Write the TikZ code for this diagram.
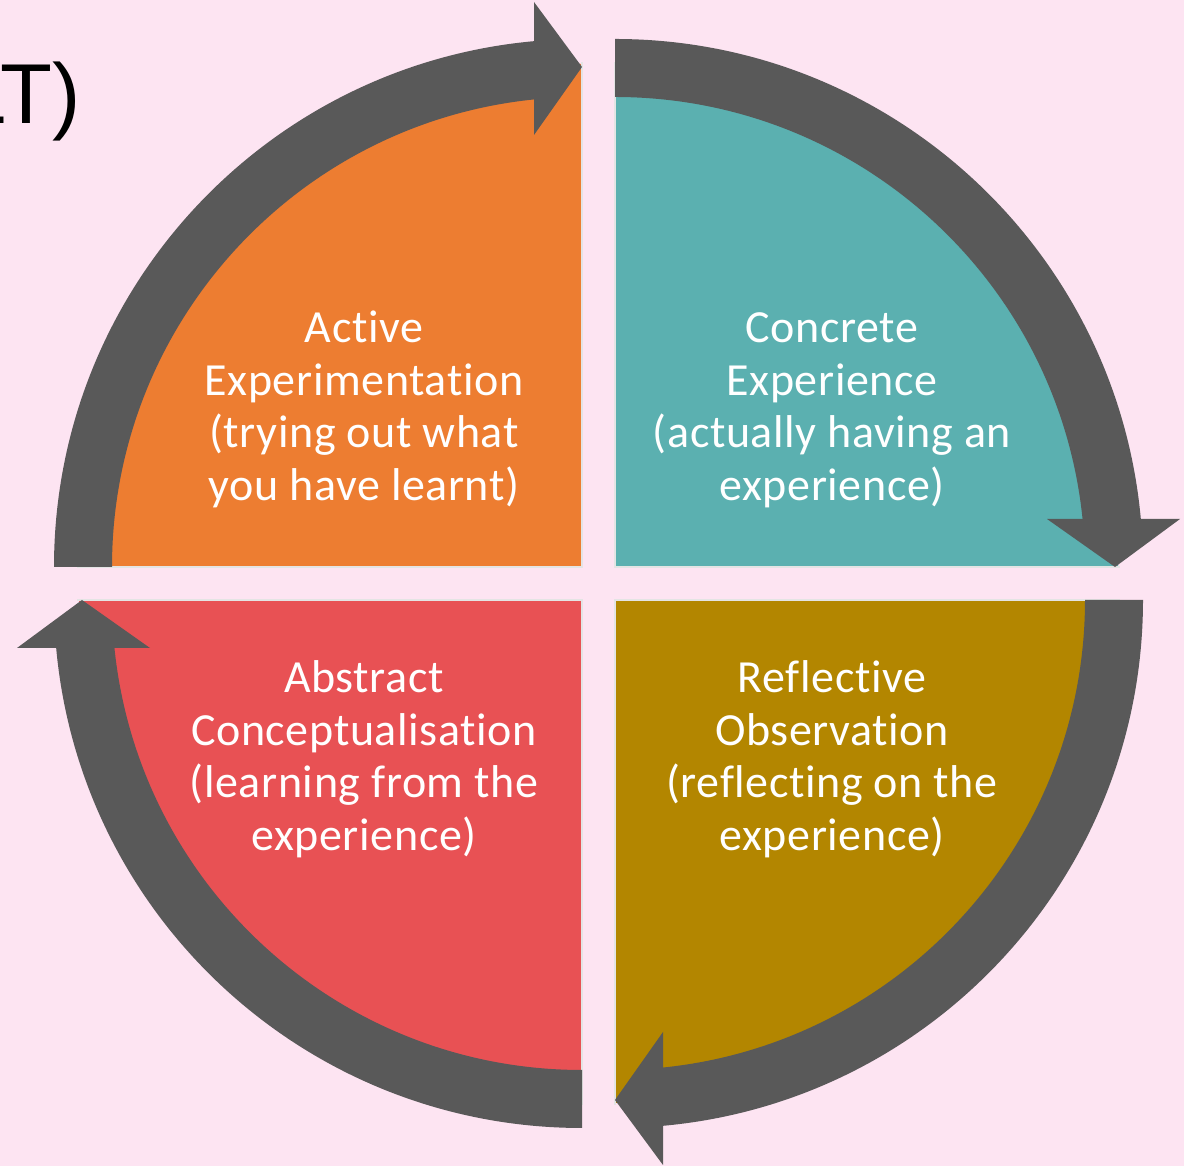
\documentclass[tikz,border=0pt]{standalone}
\usepackage{fontspec}
\setmainfont{Carlito}[Ligatures=NoCommon, LetterSpace=1.3]
\newfontfamily\titlefont{Liberation Sans}
\usetikzlibrary{calc}
\definecolor{bgpink}{HTML}{FDE4F2}
\definecolor{arrowgray}{HTML}{595959}
\definecolor{qorange}{HTML}{ED7D31}
\definecolor{qteal}{HTML}{5BB0B0}
\definecolor{qred}{HTML}{E85154}
\definecolor{qgold}{HTML}{B38600}
\definecolor{edgegray}{HTML}{E4E4E4}
\newcommand\kolbsector[3]{% center, start angle, colour
  \fill[#3] (#1) -- ($(#1)+(#2:503)$) arc[start angle=#2, end angle=#2-90, radius=503] -- cycle;
  \draw[sectoredge] ($(#1)+(#2:505)$) -- (#1) -- ($(#1)+(#2-90:505)$);}
\newcommand\kolbarrow[2]{% center, start angle; head at start-90
  \fill[bandfill] ($(#1)+(#2:528)$) arc[start angle=#2, end angle=#2-87, radius=528]
     -- ($(#1)+(#2-87:470)$) arc[start angle=#2-87, end angle=#2, radius=470] -- cycle;
  \fill[bandfill] ($(#1)+(#2-90:500)$) -- ($(#1)+(#2-90:565)+(#2:48)$)
     -- ($(#1)+(#2-90:432)+(#2:48)$) -- cycle;}
\newcommand\kolblabel[7]{% name, x, first baseline, four lines
  \node[quadtext] (#1a) at (#2,#3) {#4};
  \node[quadtext] (#1b) at (#2,#3-52.5) {#5};
  \node[quadtext] (#1c) at (#2,#3-105) {#6};
  \node[quadtext] (#1d) at (#2,#3-157.5) {#7};}
\begin{document}
\begin{tikzpicture}[x=1pt,y=1pt,
  bandfill/.style={fill=arrowgray},
  sectoredge/.style={draw=edgegray, line width=1.6pt},
  quadtext/.style={text=white, font=\fontsize{46}{53}\selectfont, anchor=base, inner sep=0pt}]
  \fill[bgpink] (0,0) rectangle (1184,1166);
  \useasboundingbox (0,0) rectangle (1184,1166);
  \coordinate (cTL) at (582,599);
  \coordinate (cTR) at (615,599);
  \coordinate (cBR) at (615,566);
  \coordinate (cBL) at (582,566);
  % sectors
  \kolbsector{cTL}{180}{qorange}
  \kolbsector{cTR}{90}{qteal}
  \kolbsector{cBR}{0}{qgold}
  \kolbsector{cBL}{-90}{qred}
  % cycle arrows
  \kolbarrow{cTL}{180}
  \kolbarrow{cTR}{90}
  \kolbarrow{cBR}{0}
  \kolbarrow{cBL}{-90}
  % labels
  \kolblabel{ae}{364}{823}{Active}{Experimentation}{(trying out what}{you have learnt)}
  \kolblabel{ce}{832}{823}{Concrete}{Experience}{(actually having an}{experience)}
  \kolblabel{ac}{364}{473}{Abstract}{Conceptualisation}{(learning from the}{experience)}
  \kolblabel{ro}{832}{473}{Reflective}{Observation}{(reflecting on the}{experience)}
  % cut-off title
  \node[font=\titlefont\fontsize{85}{100}\selectfont, anchor=base east, inner sep=0pt] (title) at (81,1042) {LT)};
\end{tikzpicture}
\end{document}
